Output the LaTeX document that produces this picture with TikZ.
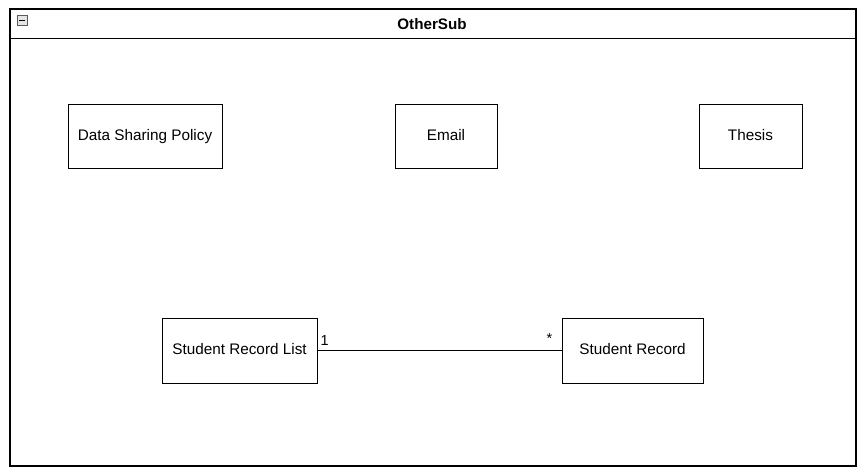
\documentclass[tikz,border=0pt]{standalone}
\usepackage{fontspec}
\setmainfont{Liberation Sans}
\usetikzlibrary{positioning, calc}

\tikzset{
	classbox/.style={draw, line width=1pt, inner sep=0pt, text height=11pt, text depth=3pt, font=\fontsize{15.3}{18}\selectfont},
	mult/.style={inner sep=0pt, font=\fontsize{14.5}{17}\selectfont}
}

\begin{document}
\begin{tikzpicture}[x=1pt, y=-1pt]
			\useasboundingbox (0, 0) rectangle (866, 474);
			\coordinate (framelt) at (10, 9);
			\coordinate (framerb) at (856, 466);
			
			% package frame
			\draw[line width=1.2pt] (framelt) rectangle (framerb);
			\draw[line width=1pt] (10, 38) -- (856, 38);
			\node [font=\bfseries\fontsize{15.2}{18}\selectfont] (Title) at (432, 24) {OtherSub};
			
			% collapse icon
			\draw[fill=gray!20, draw=gray!70!black, line width=0.5pt] (17, 15) rectangle (27, 25);
			\draw[line width=0.8pt] (19, 20) -- (25, 20);
			
			% classes
			\node [classbox, minimum width=154pt, minimum height=64pt] (Policy) at (145, 136) {Data Sharing Policy};
			\node [classbox, minimum width=102pt, minimum height=64pt] (Email) at (446, 136) {Email};
			\node [classbox, minimum width=103pt, minimum height=64pt] (Thesis) at (750.5, 136) {Thesis};
			\node [classbox, minimum width=155pt, minimum height=65pt] (RecList) at (239.5, 350.5) {Student Record List};
			\node [classbox, minimum width=141pt, minimum height=65pt] (Record) at (632.5, 350.5) {Student Record};
			
			% association
			\draw[line width=1pt] (RecList.east) -- (Record.west);
			\node [mult, above right=5pt and 3pt of RecList.east] (Mone) {1};
			\node [mult, above left=7pt and 9pt of Record.west] (Mmany) {*};
		\end{tikzpicture}
\end{document}
